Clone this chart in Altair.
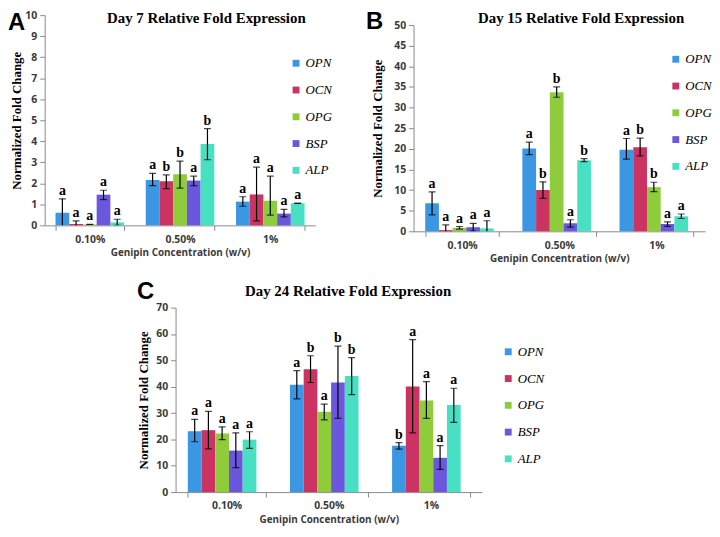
import altair as alt
import pandas as pd

genes = ["OPN", "OCN", "OPG", "BSP", "ALP"]
concs = ["0.10%", "0.50%", "1%"]
colors = ["#3B97E3", "#CB3362", "#8FCC3C", "#6B57DD", "#48E0C3"]
titles = ["Day 7 Relative Fold Expression", "Day 15 Relative Fold Expression",
          "Day 24 Relative Fold Expression"]
letters = ["A", "B", "C"]
x_title = "Genipin Concentration (w/v)"
y_title = "Normalized Fold Change"

# values listed per concentration (0.10%, 0.50%, 1%), genes in order OPN, OCN, OPG, BSP, ALP
d7_val = [0.60, 0.07, 0.04, 1.46, 0.14, 2.16, 2.10, 2.43, 2.13, 3.87, 1.13, 1.47, 1.17, 0.56, 1.05]
d7_hi = [1.26, 0.21, 0.05, 1.67, 0.29, 2.47, 2.40, 3.06, 2.34, 4.60, 1.36, 2.77, 2.34, 0.76, 1.06]
d7_lo = [-0.06, -0.07, 0.03, 1.22, 0.00, 1.89, 1.75, 1.77, 1.89, 3.12, 0.91, 0.21, 0.49, 0.40, 1.04]
d7_sig = ["a", "a", "a", "a", "a", "a", "b", "b", "a", "b", "a", "a", "a", "a", "a"]

d15_val = [6.8, 0.3, 0.85, 1.0, 0.7, 20.1, 10.0, 33.7, 1.95, 17.2, 19.8, 20.4, 10.7, 1.8, 3.65]
d15_hi = [9.55, 1.55, 1.16, 1.94, 2.56, 21.6, 12.0, 35.0, 2.8, 17.6, 22.5, 22.6, 11.9, 2.3, 4.2]
d15_lo = [4.0, -0.95, 0.54, 0.06, -1.16, 18.6, 8.0, 32.5, 1.0, 16.9, 17.5, 18.3, 9.6, 1.2, 3.1]
d15_sig = ["a", "a", "a", "a", "a", "a", "b", "b", "a", "b", "a", "b", "b", "a", "a"]

d24_val = [23.1, 23.5, 22.25, 15.75, 19.9, 40.75, 46.6, 30.5, 41.6, 44.1, 17.6, 40.05, 34.8, 13.0, 33.1]
d24_hi = [27.6, 30.6, 24.75, 22.5, 22.9, 46.1, 51.75, 33.4, 55.4, 51.0, 18.8, 57.9, 41.9, 17.6, 39.4]
d24_lo = [19.1, 16.4, 19.9, 9.25, 16.6, 35.4, 41.6, 27.4, 28.0, 37.0, 16.3, 22.5, 27.95, 8.6, 26.45]
d24_sig = ["a", "a", "a", "a", "a", "a", "b", "a", "b", "b", "b", "a", "a", "a", "a"]

SERIF = "Liberation Serif"
SANS = "Open Sans"
GRAY = "#8a8a8a"
LABEL = "#3a3a3a"


def frame(vals, hi, lo, sig):
    rows = []
    for i, c in enumerate(concs):
        for j, g in enumerate(genes):
            k = i * len(genes) + j
            rows.append(dict(conc=c, gene=g, val=vals[k], hi=hi[k], lo=lo[k], sig=sig[k]))
    return pd.DataFrame(rows)


def panel(df, ymax, ystep, w, h, idx, title_xy, letter_xy, legend_xy, ytpad, top=0):
    xscale = alt.Scale(paddingInner=0.24, paddingOuter=0.12)
    xaxis = alt.Axis(title=x_title, labelAngle=0, tickBand="extent", domainColor=GRAY,
                     tickColor=GRAY, tickSize=5, labelPadding=4, labelFont=SANS,
                     labelFontWeight="bold", labelFontSize=10.5, labelColor=LABEL,
                     titleFont=SANS, titleFontWeight="bold", titleFontSize=10,
                     titleColor=LABEL, titlePadding=3)
    yaxis = alt.Axis(title=y_title, values=list(range(0, ymax + 1, ystep)), grid=False,
                     domainColor=GRAY, tickColor=GRAY, tickSize=5, labelPadding=3,
                     labelFont=SANS, labelFontWeight="bold", labelFontSize=10.5,
                     labelColor=LABEL, titleFont=SERIF, titleFontWeight="bold",
                     titleFontSize=13, titleColor="black", titlePadding=ytpad)
    if top:
        yscale = alt.Scale(domain=[0, ymax], nice=False, range=[h, top])
    else:
        yscale = alt.Scale(domain=[0, ymax], nice=False)
    xo = alt.XOffset("gene:N", sort=genes, scale=alt.Scale(paddingInner=0, paddingOuter=0))
    xs = alt.X("conc:N", sort=concs, scale=xscale, axis=xaxis)
    base = alt.Chart(df)
    bars = base.mark_bar().encode(
        x=xs,
        xOffset=xo,
        y=alt.Y("val:Q", scale=yscale, axis=yaxis),
        color=alt.Color("gene:N", sort=genes, title=None,
                        scale=alt.Scale(domain=genes, range=colors),
                        legend=alt.Legend(orient="none", legendX=legend_xy[0],
                                          legendY=legend_xy[1], symbolType="square",
                                          symbolSize=48, symbolStrokeWidth=0,
                                          labelFont=SERIF, labelFontStyle="italic",
                                          labelFontSize=13, labelColor="black",
                                          labelOffset=3, rowPadding=13)),
    )
    rules = base.mark_rule(color="black", strokeWidth=1.2, clip=True).encode(
        x=xs, xOffset=xo, y=alt.Y("lo:Q", scale=yscale, axis=yaxis), y2="hi:Q")
    cap_hi = base.mark_tick(color="black", thickness=1.2, size=7, orient="horizontal",
                            clip=True).encode(
        x=xs, xOffset=xo, y=alt.Y("hi:Q", scale=yscale, axis=yaxis))
    cap_lo = base.mark_tick(color="black", thickness=1.2, size=7, orient="horizontal",
                            clip=True).encode(
        x=xs, xOffset=xo, y=alt.Y("lo:Q", scale=yscale, axis=yaxis))
    sig = base.mark_text(font=SERIF, fontWeight="bold", fontSize=14, baseline="bottom",
                         dy=-1, color="black").encode(
        x=xs, xOffset=xo, y=alt.Y("hi:Q", scale=yscale, axis=yaxis), text="sig:N")
    ttl = alt.Chart(pd.DataFrame({"t": [titles[idx]]})).mark_text(
        font=SERIF, fontWeight="bold", fontSize=15, align="center",
        baseline="alphabetic", color="black").encode(
        text="t:N", x=alt.value(title_xy[0]), y=alt.value(title_xy[1]))
    let = alt.Chart(pd.DataFrame({"t": [letters[idx]]})).mark_text(
        font="Liberation Sans", fontWeight="bold", fontSize=24, align="left",
        baseline="alphabetic", color="black").encode(
        text="t:N", x=alt.value(letter_xy[0]), y=alt.value(letter_xy[1]))
    return alt.layer(bars, rules, cap_hi, cap_lo, sig, ttl, let).properties(width=w, height=h)


pA = panel(frame(d7_val, d7_hi, d7_lo, d7_sig), 10, 1, 273, 212, 0,
           (163, 8), (-37, 15), (247, 42), 1)
pB = panel(frame(d15_val, d15_hi, d15_lo, d15_sig), 50, 5, 294, 218, 1,
           (169, 8), (-48, 14), (258, 38), 9, top=10)
pC = panel(frame(d24_val, d24_hi, d24_lo, d24_sig), 70, 10, 309, 186, 2,
           (174, -12), (-39, -9), (329, 38), 5)

spacer = alt.Chart(pd.DataFrame({"v": [0]})).mark_point(opacity=0, size=0).encode(
    x=alt.value(0), y=alt.value(0)).properties(width=83, height=1)

row1 = alt.hconcat(pA, pB, spacing=34).resolve_scale(color="independent")
row2 = alt.hconcat(spacer, pC, spacing=10).resolve_scale(color="independent")
chart = alt.vconcat(row1, row2, spacing=16).resolve_scale(color="independent").properties(
    padding=0,
    background="white",
).configure_view(stroke=None)

chart.save("out.html", embed_options={"renderer": "svg", "actions": False})
